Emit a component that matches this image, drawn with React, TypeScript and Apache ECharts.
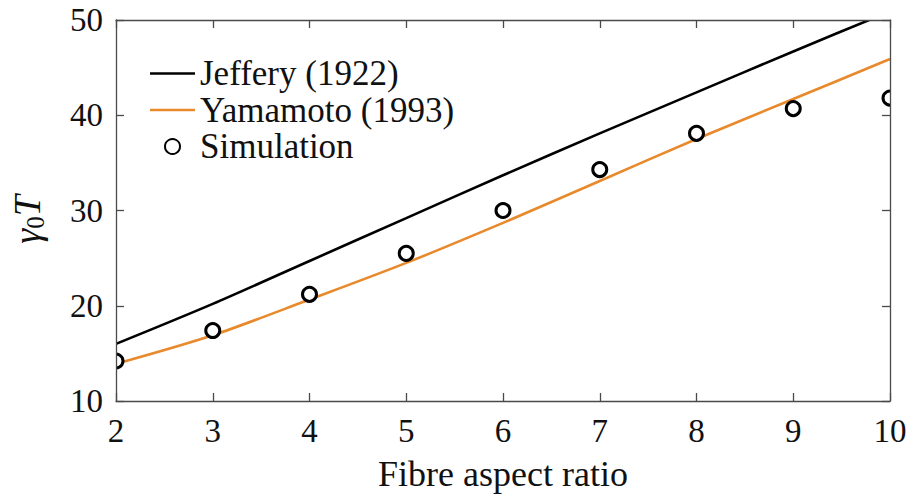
import React, { useEffect, useRef } from "react";
import * as echarts from "echarts";

const ratios = [2, 3, 4, 5, 6, 7, 8, 9, 10];
const jeffery = [16.0, 20.2, 24.7, 29.2, 33.7, 38.1, 42.4, 46.7, 50.9];
const yamamoto = [13.9, 16.9, 20.65, 24.5, 28.7, 33.1, 37.5, 41.7, 45.9];
const simulation = [14.2, 17.4, 21.2, 25.5, 30.0, 34.3, 38.1, 40.7, 41.8];

const FONT = "'Liberation Serif', serif";
const AXIS_COLOR = "#4a4a4a";
const ORANGE = "#E8892C";

export default function App() {
  const ref = useRef<HTMLDivElement>(null);
  useEffect(() => {
    if (!ref.current) return;
    const chart = echarts.init(ref.current, undefined, { renderer: "svg" });
    const pair = (ys: number[]) => ratios.map((x, i) => [x, ys[i]]);
    const axisCommon = {
      type: "value" as const,
      z: 10,
      axisLine: { show: true, lineStyle: { color: AXIS_COLOR, width: 1.3 } },
      axisTick: { show: true, inside: true, length: 8, lineStyle: { color: AXIS_COLOR, width: 1.3 } },
      splitLine: { show: false },
    };
    const W = 922, H = 497, L = 116, R = 890, T = 20, B = 407;
    const mask = (x: number, y: number, w: number, h: number) => ({
      type: "rect",
      shape: { x, y, width: w, height: h },
      style: { fill: "#fff" },
      z: 6,
      silent: true,
    });
    const label = (size: number) => ({
      fontFamily: FONT,
      fontSize: size,
      fontStyle: "normal",
      fontWeight: "normal",
      color: "#111",
    });
    chart.setOption({
      animation: false,
      backgroundColor: "#fff",
      textStyle: { fontFamily: FONT },
      grid: { left: L, right: W - R, top: T, bottom: H - B, containLabel: false },
      graphic: [
        mask(0, 0, L, H),
        mask(R, 0, W - R, H),
        mask(0, 0, W, T),
        mask(0, B, W, H - B),
      ],
      legend: {
        orient: "vertical",
        left: 145,
        top: 51,
        z: 12,
        itemWidth: 45,
        itemHeight: 15,
        itemGap: 1.5,
        textStyle: label(35),
        data: [
          { name: "Jeffery (1922)", icon: "path://M0 0H45V2.6H0Z" },
          { name: "Yamamoto (1993)", icon: "path://M0 0H45V2.6H0Z" },
          { name: "Simulation" },
        ],
      },
      xAxis: [
        {
          ...axisCommon,
          position: "bottom",
          min: 2,
          max: 10,
          interval: 1,
          axisLabel: { ...label(33), margin: 13 },
          name: "Fibre aspect ratio",
          nameLocation: "middle",
          nameGap: 55,
          nameTextStyle: label(36),
        },
        {
          ...axisCommon,
          position: "top",
          min: 2,
          max: 10,
          interval: 1,
          axisLabel: { show: false },
        },
      ],
      yAxis: [
        {
          ...axisCommon,
          position: "left",
          min: 10,
          max: 50,
          interval: 10,
          axisLabel: { ...label(33), margin: 13 },
          name: "{i|γ}{s|0}{i|T}",
          nameLocation: "middle",
          nameRotate: 90,
          nameGap: 68,
          nameTextStyle: {
            color: "#111",
            padding: [0, 18, 0, 0],
            rich: {
              i: { fontFamily: FONT, fontSize: 38, fontStyle: "italic", color: "#111", lineHeight: 42 },
              s: { fontFamily: FONT, fontSize: 25, color: "#111", verticalAlign: "bottom", lineHeight: 32 },
            },
          },
        },
        {
          ...axisCommon,
          position: "right",
          min: 10,
          max: 50,
          interval: 10,
          axisLabel: { show: false },
        },
      ],
      series: [
        {
          name: "Jeffery (1922)",
          type: "line",
          data: pair(jeffery),
          smooth: 0.3,
          symbol: "none",
          clip: true,
          lineStyle: { color: "#000", width: 2.6 },
          itemStyle: { color: "#000" },
          z: 2,
        },
        {
          name: "Yamamoto (1993)",
          type: "line",
          data: pair(yamamoto),
          smooth: 0.3,
          symbol: "none",
          clip: true,
          lineStyle: { color: ORANGE, width: 2.6 },
          itemStyle: { color: ORANGE },
          z: 3,
        },
        {
          name: "Simulation",
          type: "scatter",
          data: pair(simulation),
          symbol: "circle",
          symbolSize: 14,
          clip: false,
          itemStyle: { color: "#fff", borderColor: "#000", borderWidth: 3, opacity: 1 },
          z: 4,
        },
      ],
    });
    return () => chart.dispose();
  }, []);
  return (
    <div
      ref={ref}
      style={{ position: "absolute", left: 0, top: 0, width: 922, height: 497 }}
    />
  );
}
